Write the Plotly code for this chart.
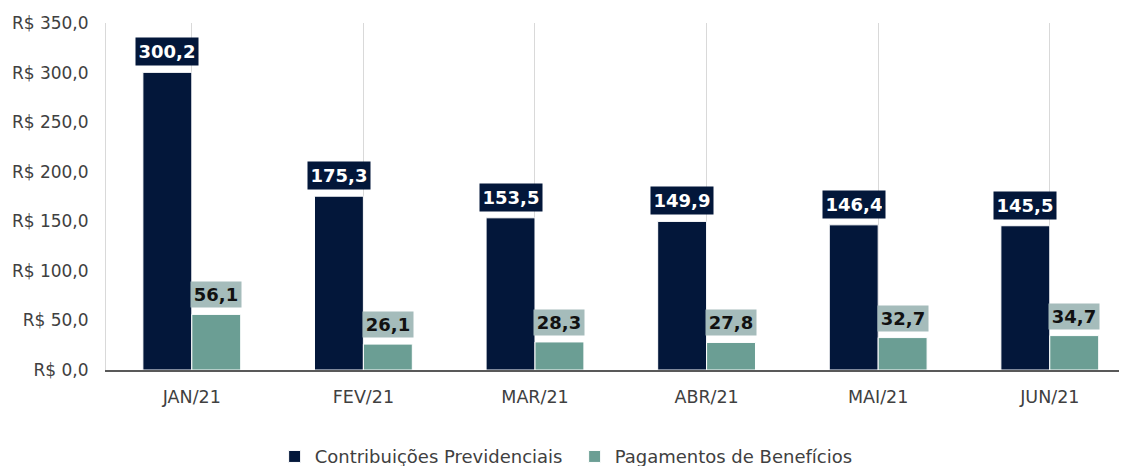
import plotly.graph_objects as go

meses = ['JAN/21', 'FEV/21', 'MAR/21', 'ABR/21', 'MAI/21', 'JUN/21']
contribuicoes = [300.2, 175.3, 153.5, 149.9, 146.4, 145.5]
beneficios = [56.1, 26.1, 28.3, 27.8, 32.7, 34.7]

y_ticks = [0, 50, 100, 150, 200, 250, 300, 350]
y_labels = ['R$ 0,0', 'R$ 50,0', 'R$ 100,0', 'R$ 150,0', 'R$ 200,0',
            'R$ 250,0', 'R$ 300,0', 'R$ 350,0']

AZUL = '#03173a'
VERDE = '#6b9e94'
CAIXA_VERDE = '#a5bcbb'
FONTE = 'DejaVu Sans'


def rotulo(v):
    return f'{v:.1f}'.replace('.', ',')


fig = go.Figure()
fig.add_trace(go.Bar(
    x=list(range(len(meses))), y=contribuicoes, name='Contribuições Previdenciais',
    marker=dict(color=AZUL, line=dict(color='white', width=1))))
fig.add_trace(go.Bar(
    x=list(range(len(meses))), y=beneficios, name='Pagamentos de Benefícios',
    marker=dict(color=VERDE, line=dict(color='white', width=1))))

bargap = 0.43
desloc = (1 - bargap) / 4
for i, (c, b) in enumerate(zip(contribuicoes, beneficios)):
    fig.add_annotation(
        x=i - desloc, y=c, text=f'<b>{rotulo(c)}</b>', showarrow=False,
        yanchor='bottom', yshift=6, bgcolor=AZUL, borderpad=3, width=56,
        font=dict(family=FONTE, size=18, color='white'))
    fig.add_annotation(
        x=i + desloc, y=b, text=f'<b>{rotulo(b)}</b>', showarrow=False,
        yanchor='bottom', yshift=6, bgcolor=CAIXA_VERDE, borderpad=2, width=46,
        font=dict(family=FONTE, size=18, color='#111111'))

# a página tem margem de 8px no body, por isso a figura é um pouco menor
fig.update_layout(
    width=1119, height=458,
    margin=dict(l=98, r=0, t=15, b=96, autoexpand=False),
    paper_bgcolor='white', plot_bgcolor='white',
    barmode='group', bargap=bargap, bargroupgap=0,
    font=dict(family=FONTE, size=17, color='#404040'),
    showlegend=True,
    legend=dict(orientation='h', x=0.459, xanchor='center', y=-0.25,
                yanchor='middle', font=dict(size=18, color='#404040'),
                traceorder='normal', entrywidth=255),
    xaxis=dict(
        range=[-0.5, 5.45], tickmode='array', tickvals=list(range(len(meses))),
        ticktext=meses, tickson='boundaries', ticks='', showgrid=True,
        gridcolor='#d9d9d9', gridwidth=1, showline=True, linecolor='#595959',
        linewidth=2, zeroline=False, ticklabelstandoff=10, automargin=False,
        tickfont=dict(size=17.5)),
    yaxis=dict(
        range=[0, 350], tickmode='array', tickvals=y_ticks, ticktext=y_labels,
        showgrid=False, zeroline=False, showline=True, linecolor='#d9d9d9',
        linewidth=1, ticks='', ticklabelstandoff=13, automargin=False,
        tickfont=dict(size=17)),
)

fig.write_html('out.html')
